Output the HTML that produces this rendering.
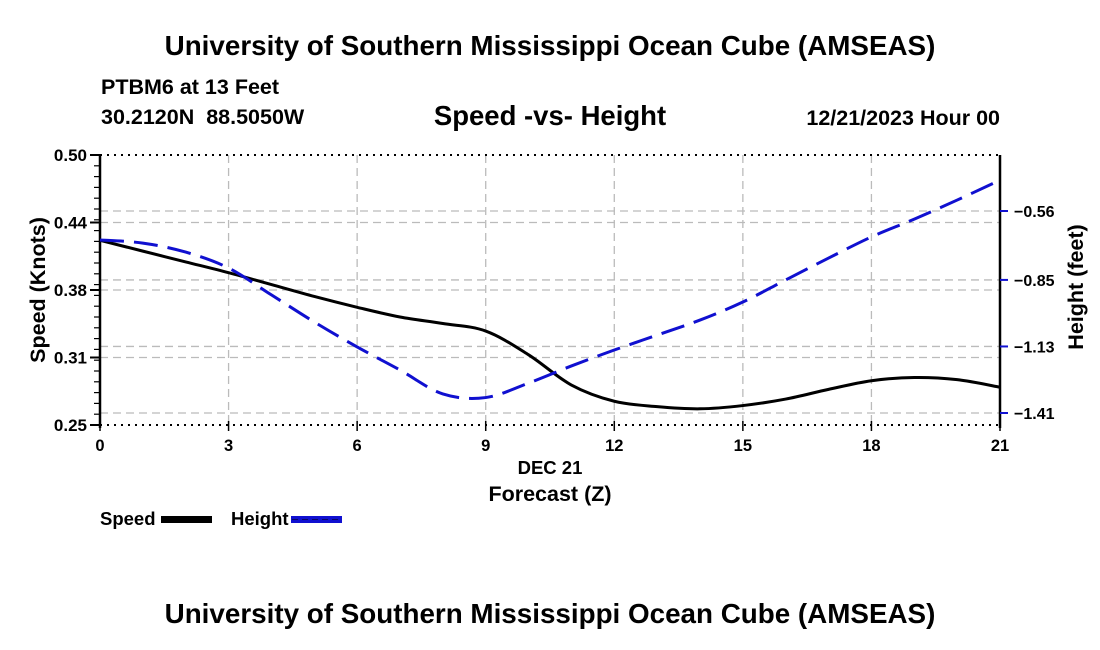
<!DOCTYPE html>
<html><head><meta charset="utf-8"><style>
html,body{margin:0;padding:0;background:#fff;}
svg{display:block;font-family:"Liberation Sans",Arial,sans-serif;font-weight:bold;}
text{white-space:pre;}
</style></head><body>
<svg id="chart" width="1100" height="650" viewBox="0 0 1100 650">
<text x="550" y="55" text-anchor="middle" font-size="27.8">University of Southern Mississippi Ocean Cube (AMSEAS)</text>
<text x="101" y="94" font-size="21.5">PTBM6 at 13 Feet</text>
<text x="101" y="124" font-size="21.5" xml:space="preserve">30.2120N  88.5050W</text>
<text x="550" y="125" text-anchor="middle" font-size="27.5">Speed -vs- Height</text>
<text x="1000" y="125" text-anchor="end" font-size="21.5">12/21/2023 Hour 00</text>
<g id="grid"></g>
<g id="axes"></g>
<g id="series"></g>
<text x="550" y="474" text-anchor="middle" font-size="18.5">DEC 21</text>
<text x="550" y="501" text-anchor="middle" font-size="21.5">Forecast (Z)</text>
<text transform="translate(45,290) rotate(-90)" text-anchor="middle" font-size="21.5">Speed (Knots)</text>
<text transform="translate(1083,287) rotate(-90)" text-anchor="middle" font-size="21.5">Height (feet)</text>
<g>
<g><text x="100" y="525" font-size="18.5">Speed</text><rect x="161" y="516" width="51" height="7" fill="#000"/></g>
<g><text x="231" y="525" font-size="18.5">Height</text><rect x="291" y="516" width="51" height="7" fill="#1010d0"/><line x1="292" y1="519.5" x2="341" y2="519.5" stroke="#000" stroke-dasharray="6,4" stroke-width="1" opacity="0.5"/></g>
</g>
<text x="550" y="623" text-anchor="middle" font-size="27.8">University of Southern Mississippi Ocean Cube (AMSEAS)</text>
</svg>
<script>
const hours=[0,1,2,3,4,5,6,7,8,9,10,11,12,13,14,15,16,17,18,19,20,21];
const speed=[0.421,0.411,0.401,0.391,0.380,0.369,0.359,0.350,0.344,0.337,0.315,0.287,0.272,0.267,0.265,0.268,0.274,0.283,0.291,0.294,0.292,0.285];
const height=[-0.682,-0.695,-0.733,-0.800,-0.913,-1.027,-1.132,-1.229,-1.330,-1.345,-1.284,-1.212,-1.145,-1.082,-1.019,-0.943,-0.850,-0.758,-0.669,-0.594,-0.514,-0.430];
const xTicks=[0,3,6,9,12,15,18,21];
const leftTicks=[0.25,0.3125,0.375,0.4375,0.5];
const leftLabels=["0.25","0.31","0.38","0.44","0.50"];
const rightTicks=[-1.41,-1.13,-0.85,-0.56];
const rightLabels=["\u22121.41","\u22121.13","\u22120.85","\u22120.56"];

const L=100,R=1000,T=155,B=425,NS="http://www.w3.org/2000/svg";
const xs=h=>L+(h-0)/21*(R-L);
const yl=v=>B-(v-0.25)/0.25*(B-T);
const yr=v=>413-(v+1.41)/0.85*202;
function mk(tag,attrs,parent){const e=document.createElementNS(NS,tag);for(const k in attrs)e.setAttribute(k,attrs[k]);parent.appendChild(e);return e;}
const grid=document.getElementById('grid'),axes=document.getElementById('axes'),series=document.getElementById('series');
const gs={stroke:"#bbb","stroke-width":1.3,"stroke-dasharray":"8,5"};
xTicks.forEach(h=>{if(h>0&&h<21){const l=mk('line',Object.assign({x1:xs(h),x2:xs(h),y1:T,y2:B},gs),grid);

}});
leftTicks.forEach(v=>{if(v>0.25&&v<0.5){const l=mk('line',Object.assign({x1:L,x2:R,y1:yl(v),y2:yl(v)},gs),grid);

}});
rightTicks.forEach(v=>{const l=mk('line',Object.assign({x1:L,x2:R,y1:yr(v),y2:yr(v)},gs),grid);

});
mk('line',{x1:L,x2:R,y1:T,y2:T,stroke:"#000","stroke-width":2,"stroke-dasharray":"2,5"},axes);
mk('line',{x1:L,x2:R,y1:B,y2:B,stroke:"#000","stroke-width":2,"stroke-dasharray":"2,5"},axes);
mk('line',{x1:L,x2:L,y1:T,y2:B+3,stroke:"#000","stroke-width":2.5},axes);
mk('line',{x1:R,x2:R,y1:T,y2:B+3,stroke:"#000","stroke-width":2.5},axes);
for(let i=0;i<=25;i++){const y=T+i*(B-T)/25;mk('line',{x1:L-6,x2:L,y1:y,y2:y,stroke:"#000","stroke-width":1.2},axes);}
leftTicks.forEach((v,i)=>{mk('line',{x1:L-10,x2:L,y1:yl(v),y2:yl(v),stroke:"#000","stroke-width":2},axes);
const t=mk('text',{x:L-13,y:yl(v)+6,"text-anchor":"end","font-size":17},axes);t.textContent=leftLabels[i];

});
rightTicks.forEach((v,i)=>{mk('line',{x1:R,x2:R+8,y1:yr(v),y2:yr(v),stroke:"#1010d0","stroke-width":2},axes);
const t=mk('text',{x:R+14,y:yr(v)+6,"font-size":16},axes);t.textContent=rightLabels[i];

});
xTicks.forEach(h=>{mk('line',{x1:xs(h),x2:xs(h),y1:B-4,y2:B+6,stroke:"#000","stroke-width":1.5},axes);
const t=mk('text',{x:xs(h),y:B+26,"text-anchor":"middle","font-size":16.5},axes);t.textContent=String(h);

});
function smooth(pts){let d=`M${pts[0][0]},${pts[0][1]}`;for(let i=0;i<pts.length-1;i++){const p0=pts[Math.max(0,i-1)],p1=pts[i],p2=pts[i+1],p3=pts[Math.min(pts.length-1,i+2)];
d+=` C${p1[0]+(p2[0]-p0[0])/6},${p1[1]+(p2[1]-p0[1])/6} ${p2[0]-(p3[0]-p1[0])/6},${p2[1]-(p3[1]-p1[1])/6} ${p2[0]},${p2[1]}`;}return d;}
const sp=mk('path',{d:smooth(hours.map((h,i)=>[xs(h),yl(speed[i])])),fill:"none",stroke:"#000","stroke-width":3},series);


const hp=mk('path',{d:smooth(hours.map((h,i)=>[xs(h),yr(height[i])])),fill:"none",stroke:"#1010d0","stroke-width":3,"stroke-dasharray":"24,10"},series);


</script>
</body></html>
